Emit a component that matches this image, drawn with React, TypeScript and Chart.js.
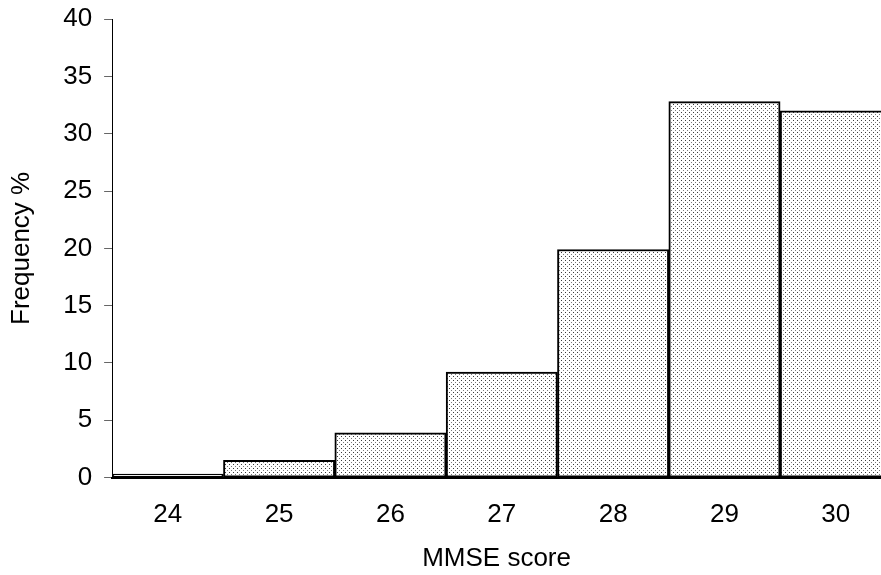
import React, { useEffect, useRef } from 'react';
import { Chart, registerables } from 'chart.js';

Chart.register(...registerables);

const scores = [24, 25, 26, 27, 28, 29, 30];
const frequency = [0.3, 1.5, 3.9, 9.2, 19.9, 32.8, 32.0];
const yMin = 0;
const yMax = 40;
const yStep = 5;
const xTitle = 'MMSE score';
const yTitle = 'Frequency %';

function makePattern(): CanvasPattern | string {
  const c = document.createElement('canvas');
  c.width = 4;
  c.height = 4;
  const g = c.getContext('2d');
  if (!g) return '#e6e6e6';
  g.fillStyle = '#ffffff';
  g.fillRect(0, 0, 4, 4);
  g.fillStyle = '#3a3a3a';
  g.fillRect(1, 0, 1, 1);
  g.fillStyle = '#7a7a7a';
  g.fillRect(3, 2, 1, 1);
  const p = g.createPattern(c, 'repeat');
  return p || '#e6e6e6';
}

export default function App() {
  const ref = useRef<HTMLCanvasElement | null>(null);

  useEffect(() => {
    document.body.style.overflow = 'hidden';
    const canvas = ref.current;
    if (!canvas) return;
    const family = '"Liberation Sans", Arial, sans-serif';
    const font = { family, size: 26 };
    const yTickFont = { family, size: 26, lineHeight: 0.55 };
    const chart = new Chart(canvas, {
      type: 'bar',
      data: {
        datasets: [
          {
            data: scores.map((s, i) => ({ x: s, y: frequency[i] })),
            backgroundColor: makePattern() as any,
            borderColor: '#000000',
            borderWidth: 2,
            borderSkipped: false,
            barPercentage: 1,
            categoryPercentage: 1,
          },
        ],
      },
      options: {
        animation: false,
        responsive: false,
        maintainAspectRatio: false,
        layout: { padding: { top: 0, left: 0, right: 0, bottom: 0 } },
        plugins: { legend: { display: false }, tooltip: { enabled: false }, title: { display: false } },
        scales: {
          x: {
            type: 'linear',
            min: 23.5,
            max: 30.406,
            offset: false,
            grid: { display: false, drawTicks: false },
            border: { display: true, color: '#000000', width: 2 },
            ticks: {
              stepSize: 1,
              includeBounds: false,
              padding: 22,
              color: '#000000',
              font,
              maxRotation: 0,
              callback: (v: any) => String(v),
            },
            title: { display: true, text: xTitle, color: '#000000', font, padding: { top: -10, bottom: 1 } },
          },
          y: {
            type: 'linear',
            min: yMin,
            max: yMax,
            grid: { drawOnChartArea: false, drawTicks: true, tickLength: 8, color: '#666666' },
            border: { display: true, color: '#000000', width: 1 },
            ticks: { stepSize: yStep, padding: 12, color: '#000000', font: yTickFont },
            title: { display: true, text: yTitle, color: '#000000', font, padding: { top: 6, bottom: 14 } },
          },
        },
      },
    });
    return () => chart.destroy();
  }, []);

  return (
    <div style={{ position: 'absolute', left: 0, top: 0, width: 881, height: 575 }}>
      <canvas ref={ref} width={881} height={575} style={{ display: 'block', width: 881, height: 575 }} />
    </div>
  );
}
